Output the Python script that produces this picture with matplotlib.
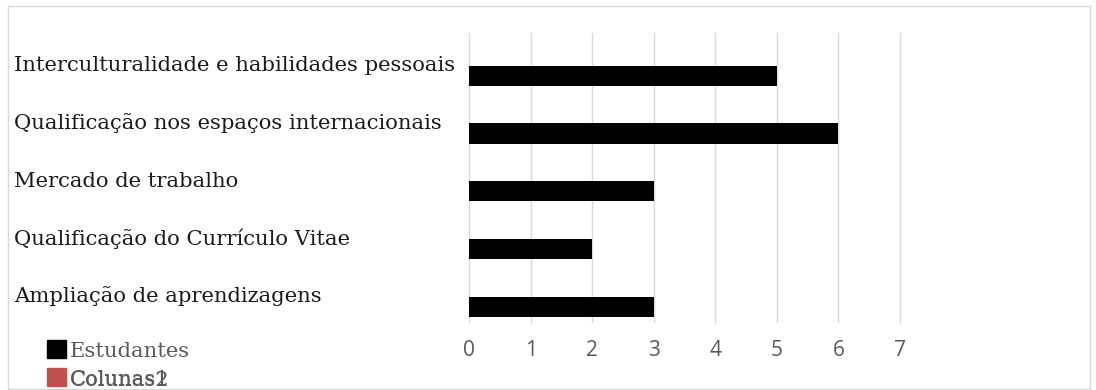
import matplotlib
matplotlib.use("Agg")
import matplotlib.pyplot as plt
from matplotlib.patches import Rectangle
import matplotlib.transforms as mtransforms

categories = [
    "Interculturalidade e habilidades pessoais",
    "Qualificação nos espaços internacionais",
    "Mercado de trabalho",
    "Qualificação do Currículo Vitae",
    "Ampliação de aprendizagens",
]
estudantes = [5, 6, 3, 2, 3]
x_ticks = [0, 1, 2, 3, 4, 5, 6, 7]
legend_labels = ["Estudantes", "Colunas1", "Colunas2"]

W, H = 1096, 390
fig = plt.figure(figsize=(W / 100, H / 100), dpi=100)

# light frame around the whole chart
fig.patches.append(Rectangle((8 / W, 1 / H), (1090 - 8) / W, (383) / H,
                             transform=fig.transFigure, fill=False,
                             edgecolor="#d9d9d9", linewidth=1))

ax = fig.add_axes([469 / W, 1 - 322 / H, (900 - 469) / W, (322 - 33) / H])
ax.set_xlim(0, 7)
ax.set_ylim(len(categories) - 0.5, -0.5)

bar_offset = 0.24
bar_height = 0.35
ypos = [i + bar_offset for i in range(len(categories))]
ax.barh(ypos, estudantes, height=bar_height, color="black", zorder=3)

ax.set_xticks(x_ticks)
ax.set_xticklabels([str(t) for t in x_ticks], fontsize=15, color="#595959",
                   family="Open Sans")
ax.tick_params(axis="x", length=0, pad=13)
ax.set_yticks([])
for t in x_ticks:
    ax.axvline(t, color="#d9d9d9", linewidth=1, zorder=0, clip_on=False)
for s in ax.spines.values():
    s.set_visible(False)

SERIF = ["DejaVu Serif"]

# category names, left aligned near the frame edge
trans = mtransforms.blended_transform_factory(fig.transFigure, ax.transData)
for i, name in enumerate(categories):
    ax.text(14 / W, i + 0.16, name, transform=trans, ha="left", va="baseline",
            fontsize=15.2, family=SERIF, color="#1a1a1a")

# legend drawn as squares with labels
def legend_square(y_px, color):
    fig.patches.append(Rectangle((47 / W, 1 - (y_px + 9) / H), 19 / W, 18 / H,
                                 transform=fig.transFigure, color=color))

def legend_label(baseline_px, label):
    fig.text(70 / W, 1 - baseline_px / H, label, ha="left", va="baseline",
             fontsize=15.2, family=SERIF, color="#595959")

legend_square(349, "black")
legend_label(357, legend_labels[0])
legend_square(377, "#c0504d")
legend_label(385, legend_labels[1])
legend_label(386.5, legend_labels[2])

fig.savefig("out.png", dpi=100)
